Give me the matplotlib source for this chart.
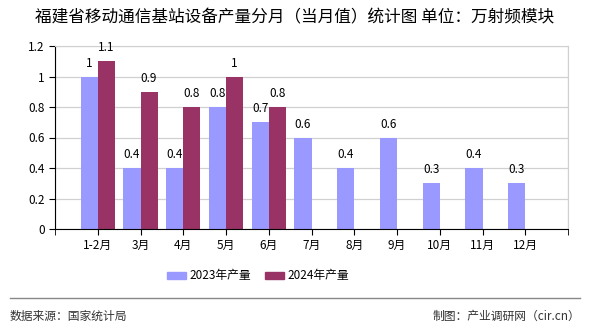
import matplotlib
matplotlib.use('Agg')
import matplotlib.pyplot as plt
from matplotlib.lines import Line2D
from matplotlib.patches import Patch

plt.rcParams['font.family'] = ['Noto Sans CJK SC', 'DejaVu Sans']

months = ['1-2月', '3月', '4月', '5月', '6月', '7月', '8月', '9月', '10月', '11月', '12月']
y2023 = [1, 0.4, 0.4, 0.8, 0.7, 0.6, 0.4, 0.6, 0.3, 0.4, 0.3]
y2024 = [1.1, 0.9, 0.8, 1, 0.8]
yticks = [0, 0.2, 0.4, 0.6, 0.8, 1, 1.2]

c2023 = '#9999FF'
c2024 = '#993366'

fig = plt.figure(figsize=(5.9, 3.3), dpi=100)
ax = fig.add_axes([55/590, 1-229/330, (568-55)/590, (229-46)/330])

w = 0.4
x1 = [i + 1 for i in range(len(y2023))]
x2 = [i + 1 for i in range(len(y2024))]
ax.bar(x1, y2023, width=w, align='edge', color=c2023, zorder=2)
ax.bar(x2, y2024, width=w, align='edge', color=c2024, zorder=2)
# 2023 bars sit left of the tick
for b in ax.patches[:len(y2023)]:
    b.set_x(b.get_x() - w)

for b, v in zip(ax.patches, y2023 + y2024):
    ax.text(b.get_x() + w/2, v + 0.045, '%g' % v, ha='center', va='bottom', fontsize=8.5)

ax.set_xlim(0, 12)
ax.set_ylim(0, 1.2)
ax.set_xticks(x1)
ax.set_xticklabels(months, fontsize=8.5)
ax.set_xticks(range(0, 13), minor=True)
ax.set_yticks(yticks)
ax.set_yticklabels(['%g' % t for t in yticks], fontsize=8.5)
ax.tick_params(axis='x', which='both', length=4, color='black')
ax.tick_params(axis='y', length=4, color='black')
ax.grid(True, which='minor', axis='x', color='#d0d0d0', lw=0.9, zorder=0)
ax.grid(True, which='major', axis='y', color='#d0d0d0', lw=0.9, zorder=0)
ax.grid(False, which='major', axis='x')
ax.spines['top'].set_color('#d0d0d0')
ax.spines['right'].set_color('#d0d0d0')
ax.spines['left'].set_color('black')
ax.spines['bottom'].set_color('black')

fig.text(0.5, 1-18/330, '福建省移动通信基站设备产量分月（当月值）统计图 单位：万射频模块',
         ha='center', va='center', fontsize=12)

handles = [Patch(color=c2023, label='2023年产量'), Patch(color=c2024, label='2024年产量')]
fig.legend(handles=handles, loc='center', bbox_to_anchor=(258/590, 1-276/330), ncol=2,
           frameon=False, fontsize=8.5, handlelength=1.6, handleheight=0.6,
           handletextpad=0.3, columnspacing=1.2)

fig.add_artist(Line2D([10/590, 580/590], [1-298/330, 1-298/330], color='#888888', lw=1))
fig.text(10/590, 1-316/330, '数据来源：国家统计局', ha='left', va='center', fontsize=8.5, color='#333333')
fig.text(580/590, 1-316/330, '制图：产业调研网（cir.cn）', ha='right', va='center', fontsize=8.5, color='#333333')

fig.savefig('out.png', dpi=100)
